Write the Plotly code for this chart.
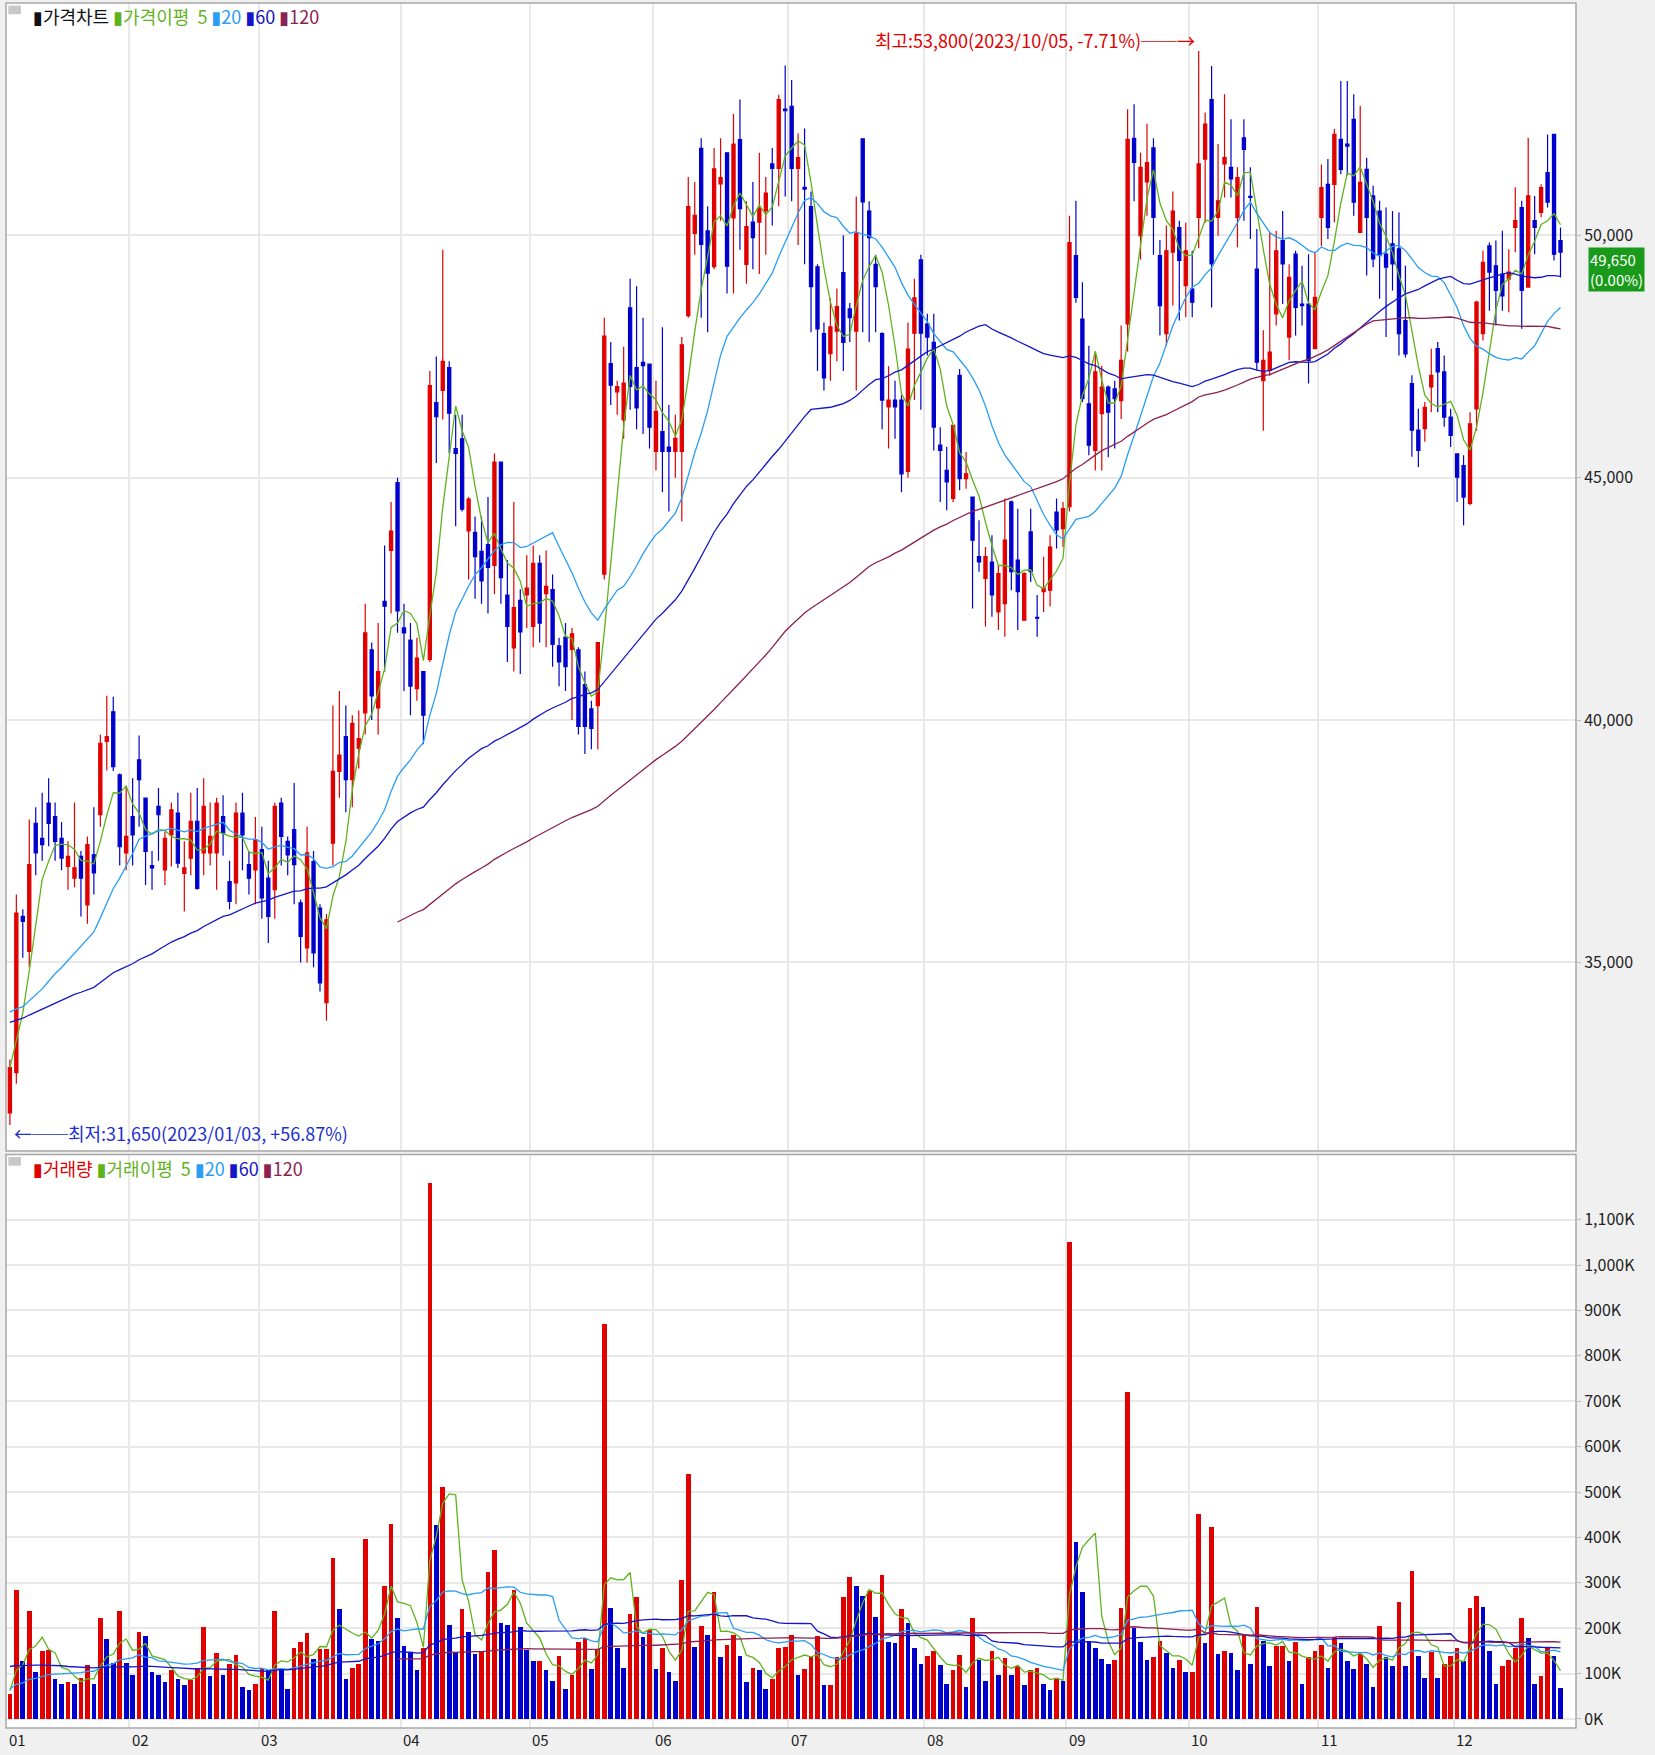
import numpy as np
import pandas as pd
import plotly.graph_objects as go
from plotly.subplots import make_subplots

# trading days per month (2023)
month_labels = ['01', '02', '03', '04', '05', '06', '07', '08', '09', '10', '11', '12']
month_days = [19, 20, 22, 20, 19, 21, 21, 22, 19, 20, 21, 17]

opens = [
    31900, 32730, 35950, 35230, 37870, 37560, 38290, 38010, 37560, 36980, 36740, 37190, 36190, 37220, 38050, 39560, 40170, 38870, 37260,
    38010, 39180, 38390, 37000, 38220, 36910, 37630, 38080, 36840, 37150, 37910, 37260, 37260, 37260, 38010, 36670, 36640, 38080, 37020, 36910,
    37330, 36740, 36500, 38290, 37500, 37740, 36230, 35300, 37080, 36120, 34170, 37460, 38940, 39660, 38770, 39420, 40150, 41450, 40250, 42450, 43500, 44900,
    41900, 41650, 40650, 41000, 41250, 46550, 46800, 47270, 45600, 45800, 43900, 43870, 43480, 43620, 43190, 45320, 42580, 41490, 42470, 42580,
    41930, 43230, 42610, 42690, 41530, 41710, 41460, 41450, 40730, 40230, 40300, 43010, 47350, 46770, 46190, 48500, 47270, 47380, 47340,
    45540, 45950, 45630, 45540, 45540, 48340, 50040, 51790, 50090, 49350, 51060, 51700, 50360, 51970, 49400, 50270, 50270, 50500, 51470, 51380, 52600,
    52660, 51380, 50990, 50590, 49350, 47970, 47560, 48020, 49230, 48480, 48020, 51990, 50500, 49400, 47970, 46460, 46600, 46600, 45130, 47980, 49490,
    48170, 47790, 45670, 45150, 44570, 47110, 44980, 44600, 43370, 42920, 43260, 42230, 42400, 44500, 43300, 42060, 43880, 42120, 42650, 42680, 44290, 43950,
    44400, 49580, 48270, 46520, 45560, 46320, 46870, 46830, 46590, 48170, 52000, 49990, 51100, 51800, 49580, 47970, 49650, 50160, 48960,
    48890, 50370, 51570, 52800, 50370, 51470, 51400, 50370, 52010, 50800, 49300, 47000, 47210, 48380, 49890, 47900, 49610, 48580, 48580, 47660,
    50370, 51050, 51050, 51980, 51880, 52390, 50060, 51360, 50810, 50500, 49610, 49820, 49720, 48240, 46940, 45980, 46010, 46870, 47660, 47180, 46250,
    45490, 45250, 44470, 46420, 47970, 49780, 49370, 49200, 49100, 50160, 50570, 48930, 50300, 50470, 51290, 52080, 49890,
]
highs = [
    33000, 36400, 36100, 37950, 38200, 38500, 38800, 38300, 37900, 37500, 38300, 37300, 37600, 38200, 39700, 40500, 40480, 38900, 38600,
    38800, 39680, 38400, 37300, 38600, 37700, 38300, 38500, 37500, 38500, 38600, 38800, 38300, 38400, 38450, 37100, 38300, 38500, 37300, 38000,
    37800, 37100, 38300, 38400, 37600, 38700, 36300, 37800, 37300, 36200, 36000, 40300, 40600, 40300, 40100, 40200, 42400, 41600, 42000, 43600, 44500, 45000,
    42400, 42000, 41700, 41000, 47200, 47500, 49700, 47400, 46300, 46300, 44600, 44200, 44200, 44600, 45500, 45320, 43300, 44500, 42700, 43400,
    43600, 43400, 43500, 43000, 41700, 42000, 41900, 41500, 41000, 40400, 41600, 48300, 47800, 47000, 47700, 49100, 48950, 48300, 47340,
    47000, 48100, 46500, 46300, 47900, 51200, 51100, 52000, 50600, 51800, 52000, 51700, 52500, 52800, 50700, 51100, 51700, 51200, 51800, 52900, 53500,
    53200, 52100, 52200, 50900, 49400, 48200, 48700, 48900, 50000, 48600, 50800, 51990, 50700, 49600, 48000, 47300, 47000, 46700, 48200, 49100, 49600,
    48380, 48380, 46040, 45630, 46080, 47240, 45530, 44600, 44120, 43570, 43810, 43200, 44570, 44530, 44360, 43050, 44360, 42580, 43370, 43810, 44570, 44500,
    50400, 50710, 49030, 47720, 47590, 47310, 46900, 47000, 48140, 52600, 52700, 51700, 52300, 52000, 49900, 50200, 50900, 50300, 50260,
    49680, 53800, 52530, 53490, 51880, 52910, 52390, 51400, 52390, 51400, 50130, 48040, 50060, 50090, 50500, 49400, 49680, 49370, 49610, 49650,
    51460, 51570, 52190, 53180, 53180, 52910, 52670, 51600, 51020, 50710, 50570, 50500, 50470, 49370, 47110, 46420, 46560, 47660, 47800, 47520, 46420,
    45490, 45460, 46350, 48650, 49680, 49850, 49890, 50090, 49710, 50990, 50710, 52010, 50810, 51050, 52080, 52080, 50160,
]
lows = [
    31650, 32500, 35100, 34900, 36800, 37100, 37400, 37100, 36900, 36500, 36550, 35950, 35800, 36400, 37800, 38960, 38950, 37000, 36900,
    37000, 37800, 36600, 36500, 37100, 36600, 36980, 36950, 36050, 36800, 36500, 36800, 37000, 36500, 37200, 36100, 36200, 36900, 36400, 36200,
    35900, 35400, 35900, 37000, 36800, 36200, 35000, 35000, 34900, 34400, 33800, 37000, 38400, 38100, 38200, 39000, 39700, 40000, 39700, 41000, 42200, 41800,
    40600, 40100, 40400, 39500, 41200, 45300, 46200, 45500, 44000, 44300, 42900, 42500, 42400, 42200, 42600, 42400, 41200, 41000, 40950, 41900,
    41500, 41600, 41500, 41100, 40700, 40600, 40000, 39700, 39300, 39400, 39400, 42900, 46500, 46300, 45800, 46400, 46000, 45900, 45600,
    45150, 44700, 44300, 45000, 44100, 48300, 49600, 48300, 48000, 49300, 50300, 48800, 48800, 49700, 49000, 49300, 49200, 49600, 50200, 50600, 50800,
    50700, 49800, 49400, 48000, 47200, 46800, 47000, 47400, 47200, 47800, 46800, 48000, 47800, 48000, 46000, 45600, 45800, 44700, 45000, 46600, 46400,
    47520, 45560, 44500, 44330, 44500, 44740, 44770, 42300, 43060, 41930, 42130, 41860, 41720, 42680, 41860, 42060, 42850, 41720, 42230, 42350, 43540, 43570,
    44300, 48610, 46560, 45460, 45150, 45150, 45420, 45600, 46210, 47600, 50700, 49500, 50400, 49600, 47930, 47720, 48550, 48240, 48310,
    48310, 49730, 50260, 48510, 49990, 50780, 50780, 49750, 50300, 49920, 47210, 45970, 47100, 48140, 48580, 47420, 47930, 48140, 46940, 47660,
    49780, 49920, 50270, 51260, 51230, 50400, 50060, 49170, 49340, 48690, 47900, 48860, 47520, 47480, 45430, 45220, 45740, 46350, 46350, 46050, 45630,
    44500, 44020, 44430, 45970, 47830, 48440, 48140, 48440, 48410, 49650, 48070, 48930, 49610, 50370, 50570, 49480, 49130,
]
closes = [
    32830, 36020, 35850, 37020, 37260, 37430, 37870, 37500, 37150, 37190, 36950, 36740, 37430, 36850, 39520, 39660, 39040, 37390, 37600,
    37630, 38770, 37290, 36950, 38050, 37560, 38150, 37050, 36950, 37910, 36530, 38220, 37600, 38290, 37670, 36260, 38080, 37630, 36740, 37530,
    36330, 35950, 38220, 37600, 37220, 37020, 35540, 37260, 35200, 34580, 35880, 38940, 39280, 38770, 39930, 39620, 41800, 40500, 41000, 42350, 43900, 42250,
    41800, 40700, 41280, 40100, 46900, 46260, 47400, 46330, 45500, 44350, 44560, 43370, 42870, 43150, 45320, 42940, 41930, 42320, 41820, 42720,
    43230, 42000, 42760, 41560, 41200, 41100, 41780, 39870, 39870, 39830, 41600, 47920, 46910, 46880, 46950, 46880, 46440, 47310, 46040,
    46370, 45540, 45540, 45810, 47740, 50590, 50410, 49810, 49220, 51370, 51190, 49360, 51880, 50550, 50180, 49950, 50550, 50870, 51380, 52800, 52570,
    51380, 51600, 50950, 48940, 48070, 47060, 48110, 48530, 47790, 48300, 50040, 50690, 49950, 48940, 46600, 46600, 46460, 45080, 47650, 48710, 47980,
    47900, 46040, 45560, 44910, 46080, 44980, 45080, 43710, 43260, 43370, 42580, 43020, 43710, 43060, 42650, 43020, 43060, 42100, 42720, 43570, 43920, 44360,
    49850, 48720, 46630, 45670, 47180, 46870, 46350, 46630, 47420, 51980, 51500, 51400, 51500, 50370, 48550, 49680, 50500, 49480, 49680,
    48620, 51470, 52290, 49410, 50710, 51600, 51160, 51190, 51770, 50780, 47380, 47420, 47590, 49680, 49410, 49130, 48510, 48550, 47420, 48720,
    50980, 50160, 52080, 51360, 51840, 50680, 51090, 50370, 49510, 49580, 49340, 49410, 47970, 47550, 45980, 45560, 46450, 47110, 47180, 46250, 45870,
    45010, 44600, 46110, 48620, 49440, 49240, 48860, 48750, 49240, 50300, 48860, 50810, 50160, 50980, 50680, 49610, 49650,
]
# volume in thousands of shares
volumes = [
    54, 284, 126, 238, 103, 149, 151, 87, 77, 80, 77, 90, 118, 77, 222, 176, 122, 238, 122,
    97, 191, 182, 103, 97, 80, 107, 87, 74, 85, 112, 201, 93, 145, 97, 120, 140, 70, 64, 77,
    110, 107, 238, 107, 66, 156, 169, 188, 132, 153, 153, 353, 242, 87, 112, 120, 396, 176, 171, 293, 428, 222,
    160, 145, 107, 156, 1180, 426, 510, 207, 145, 242, 191, 143, 149, 324, 372, 211, 207, 284, 201, 151,
    128, 128, 107, 83, 139, 66, 96, 169, 178, 109, 154, 870, 244, 156, 112, 231, 269, 180, 196,
    109, 156, 103, 83, 306, 540, 158, 205, 185, 280, 136, 162, 185, 139, 80, 112, 107, 66, 87, 156, 158,
    185, 96, 109, 136, 182, 74, 74, 136, 267, 313, 293, 271, 282, 224, 317, 169, 166, 242, 211, 156, 120,
    139, 149, 118, 77, 107, 140, 70, 222, 129, 83, 149, 96, 134, 96, 115, 74, 107, 112, 77, 64, 89, 83,
    1050, 390, 280, 171, 156, 132, 120, 129, 244, 720, 200, 169, 129, 136, 172, 145, 112, 129, 103,
    103, 452, 166, 423, 143, 149, 145, 107, 184, 120, 247, 171, 116, 160, 160, 127, 169, 77, 136, 149,
    162, 112, 180, 166, 127, 109, 142, 120, 70, 205, 136, 116, 258, 116, 326, 139, 89, 147, 89, 120, 139,
    156, 126, 244, 271, 247, 149, 77, 116, 129, 156, 222, 178, 77, 93, 156, 139, 67,
]
# late-2022 history, only used so the moving averages exist from the first day
prev_closes = [
    33200, 33450, 33100, 33600, 33900, 34100, 33800, 33500, 33300, 33700, 34000, 34250, 33900, 33650, 33400, 33150, 33500, 33850, 34100, 33900,
    33600, 33300, 33050, 32900, 33200, 33550, 33800, 33600, 33350, 33100, 33400, 33700, 34000, 34300, 34100, 33850, 33600, 33900, 34200, 34450,
    34700, 34900, 34600, 34800, 35000, 34700, 34400, 34600, 34300, 34100, 33900, 34200, 34000, 33700, 33500, 33200, 33000, 32700, 32400,
]
prev_volumes = [
    150, 130, 170, 120, 140, 160, 110, 135, 180, 125, 145, 120, 155, 140, 130, 165, 115, 150, 140, 125,
    160, 135, 120, 145, 170, 130, 150, 125, 140, 155, 135, 120, 160, 145, 130, 150, 140, 125, 135, 145,
    70, 60, 80, 65, 55, 75, 68, 62, 58, 72, 66, 60, 75, 70, 64, 58, 66, 72, 60,
]

n = len(closes)
x = np.arange(n)
npre = len(prev_closes)
ma_colors = {5: '#5fb31e', 20: '#2a9df4', 60: '#1414c8', 120: '#8b2252'}

all_c = pd.Series(prev_closes + closes, dtype=float)
all_v = pd.Series(prev_volumes + volumes, dtype=float)

vol_colors = ['#e00000'] + ['#e00000' if volumes[i] >= volumes[i - 1] else '#0000cc' for i in range(1, n)]

fig = make_subplots(rows=2, cols=1, shared_xaxes=True, vertical_spacing=0.003,
                    row_heights=[0.667, 0.333])

fig.add_trace(go.Candlestick(
    x=x, open=opens, high=highs, low=lows, close=closes,
    increasing=dict(line=dict(color='#e00000', width=1.2), fillcolor='#e00000'),
    decreasing=dict(line=dict(color='#0000cc', width=1.2), fillcolor='#0000cc'),
    whiskerwidth=0, showlegend=False), row=1, col=1)

for w, col in ma_colors.items():
    ma = all_c.rolling(w).mean().iloc[npre:].to_numpy()
    fig.add_trace(go.Scatter(x=x, y=ma, mode='lines', line=dict(color=col, width=1.3),
                             showlegend=False, hoverinfo='skip'), row=1, col=1)

fig.add_trace(go.Bar(x=x, y=volumes, marker_color=vol_colors, marker_line_width=0,
                     width=0.72, showlegend=False), row=2, col=1)
for w, col in ma_colors.items():
    ma = all_v.rolling(w).mean().iloc[npre:].to_numpy()
    fig.add_trace(go.Scatter(x=x, y=ma, mode='lines', line=dict(color=col, width=1.3),
                             showlegend=False, hoverinfo='skip'), row=2, col=1)

month_start = np.concatenate([[0], np.cumsum(month_days)[:-1]])
grid_x = [s - 0.5 for s in month_start[1:]]

for r in (1, 2):
    fig.update_xaxes(row=r, col=1, range=[-0.6, n + 1.4], tickvals=grid_x, showticklabels=False,
                     showgrid=True, gridcolor='#e8e8e8', gridwidth=1.5, zeroline=False,
                     rangeslider_visible=False, ticks='', showline=False)

fig.update_yaxes(row=1, col=1, side='right', range=[31130, 54790],
                 tickvals=[35000, 40000, 45000, 50000], tickformat=',',
                 showgrid=True, gridcolor='#e8e8e8', gridwidth=1.5, zeroline=False,
                 tickfont=dict(size=16, color='#222'), ticks='outside', ticklen=4, tickcolor='#bbb')
vt = list(range(0, 1101, 100))
fig.update_yaxes(row=2, col=1, side='right', range=[-20, 1242],
                 tickvals=vt, ticktext=[f'{v:,}K' for v in vt],
                 showgrid=True, gridcolor='#e8e8e8', gridwidth=1.5, zeroline=False,
                 tickfont=dict(size=16, color='#222'), ticks='outside', ticklen=4, tickcolor='#bbb')

font = 'Noto Sans CJK KR, DejaVu Sans'
ann = []
for lab, s in zip(month_labels, month_start):
    ann.append(dict(x=s + 1.2, y=0, xref='x2', yref='paper', yanchor='top', yshift=1,
                    text=lab, showarrow=False, font=dict(size=15, color='#222', family=font)))


def legend_text(first, first_col, second):
    return (f"<span style='color:{first_col}'>▮{first}</span> "
            f"<span style='color:{ma_colors[5]}'>▮{second}  5</span> "
            f"<span style='color:{ma_colors[20]}'>▮20</span> "
            f"<span style='color:{ma_colors[60]}'>▮60</span> "
            f"<span style='color:{ma_colors[120]}'>▮120</span>")


ann.append(dict(x=0.016, y=1.0, xref='paper', yref='paper', xanchor='left', yanchor='top', yshift=2,
                text=legend_text('가격차트', '#111', '가격이평'), showarrow=False,
                font=dict(size=18, family=font)))
ann.append(dict(x=0.016, y=0.332, xref='paper', yref='paper', xanchor='left', yanchor='top', yshift=2,
                text=legend_text('거래량', '#e00000', '거래이평'), showarrow=False,
                font=dict(size=18, family=font)))

imax = int(np.argmax(highs))
imin = int(np.argmin(lows))
ann.append(dict(x=imax - 0.2, y=54030, xref='x', yref='y', xanchor='right', yanchor='middle',
                text=f"최고:{highs[imax]:,}(2023/10/05, {(closes[-1] / highs[imax] - 1) * 100:.2f}%)──→",
                showarrow=False, font=dict(size=18, color='#e00000', family=font)))
ann.append(dict(x=imin + 0.4, y=31480, xref='x', yref='y', xanchor='left', yanchor='middle',
                text=f"←──최저:{lows[imin]:,}(2023/01/03, +{(closes[-1] / lows[imin] - 1) * 100:.2f}%)",
                showarrow=False, font=dict(size=18, color='#1c2fd0', family=font)))
ann.append(dict(x=1.0, y=closes[-1], xref='paper', yref='y', xanchor='left', yanchor='middle',
                xshift=12, yshift=-17, text=f"{closes[-1]:,}<br>(0.00%)", showarrow=False, align='left',
                bgcolor='#1a9a1a', borderpad=1, font=dict(size=15, color='white', family=font)))

shapes = []
for y0, y1 in ((0.3345, 1.0), (0.0, 0.3325)):
    shapes.append(dict(type='rect', xref='paper', yref='paper', x0=0, x1=1, y0=y0, y1=y1,
                       line=dict(color='#a8a8a8', width=1.5)))
    shapes.append(dict(type='rect', xref='paper', yref='paper', x0=0.0015, x1=0.0095,
                       y0=y1 - 0.0065, y1=y1 - 0.0015, fillcolor='#c8c8c8', line_width=0))

fig.update_layout(
    width=1655, height=1755,
    margin=dict(l=6, r=79, t=3, b=27),
    paper_bgcolor='#f0f0f0', plot_bgcolor='white',
    font=dict(family=font),
    annotations=ann, shapes=shapes,
    bargap=0, showlegend=False,
)

fig.write_html("out.html", config={'displayModeBar': False},
               post_script="document.body.style.margin='0';")
